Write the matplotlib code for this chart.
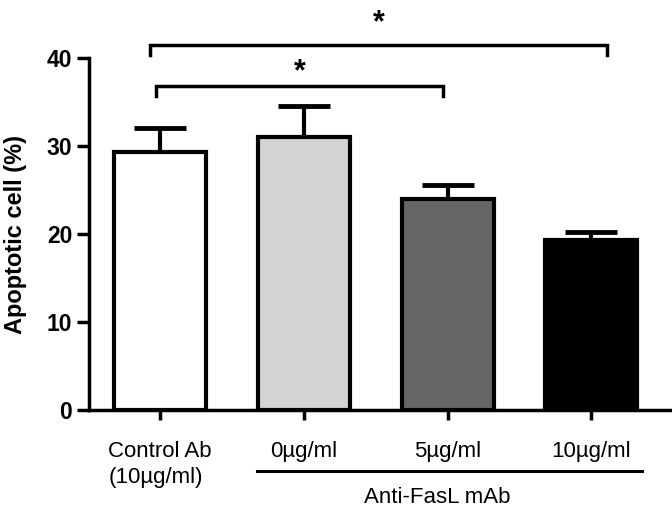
import matplotlib
matplotlib.use("Agg")
import matplotlib.pyplot as plt

plt.rcParams['font.family'] = ['Liberation Sans', 'DejaVu Sans']

categories = ["Control Ab\n(10µg/ml)", "0µg/ml", "5µg/ml", "10µg/ml"]
means = [29.3, 31.0, 24.0, 19.3]
sems = [2.7, 3.6, 1.6, 0.9]
colors = ["white", "#d3d3d3", "#666666", "black"]
yticks = [0, 10, 20, 30, 40]
group_label = "Anti-FasL mAb"
ylabel = "Apoptotic cell (%)"

fig = plt.figure(figsize=(6.72, 5.07), dpi=100)
ax = fig.add_axes([89/672, 97/507, (672-89)/672, 410/507])

x = list(range(len(categories)))
ax.bar(x, means, width=0.64, color=colors, edgecolor="black", linewidth=3, zorder=2)
ax.errorbar(x, means, yerr=[[0]*len(sems), sems], fmt="none", ecolor="black",
            elinewidth=3, capsize=19, capthick=3.5, zorder=1)

ax.set_xlim(-0.494, 3.56)
ax.set_ylim(0, 410/8.8)
ax.spines['top'].set_visible(False)
ax.spines['right'].set_visible(False)
ax.spines['left'].set_bounds(0, 40)
ax.spines['left'].set_linewidth(2.5)
ax.spines['bottom'].set_linewidth(2.5)
ax.set_yticks(yticks)
ax.set_yticklabels([str(v) for v in yticks], fontsize=16.5, fontweight='bold')
ax.tick_params(axis='y', length=9, width=2.5, pad=3)
ax.set_xticks(x)
ax.set_xticklabels(categories, fontsize=16, multialignment='left', linespacing=1.35)
ax.tick_params(axis='x', length=7, width=2.5, pad=15)
ax.set_ylabel(ylabel, fontsize=17, fontweight='bold')
ax.yaxis.set_label_coords(-0.107, 20 / (410/8.8))

# group line and label
xt = ax.get_xaxis_transform()
ax.plot([0.675, 3.354], [-0.149, -0.149], color="black", lw=2.2, transform=xt, clip_on=False)
ax.text(1.93, -0.2265, group_label, ha='center', va='baseline', fontsize=16, transform=xt)

# significance brackets
def bracket(x0, x1, ytop, ydrop, ystar):
    ax.plot([x0, x0, x1, x1], [ydrop, ytop, ytop, ydrop], color="black", lw=2.5,
            clip_on=False, solid_joinstyle='miter')
    ax.text((x0 + x1) / 2, ystar, "*", ha='center', va='center', fontsize=22,
            fontweight='bold')

bracket(-0.07, 3.11, 41.5, 40.3, 44.0)
bracket(-0.03, 1.97, 36.8, 35.7, 38.4)

fig.savefig("out.png", dpi=100)
